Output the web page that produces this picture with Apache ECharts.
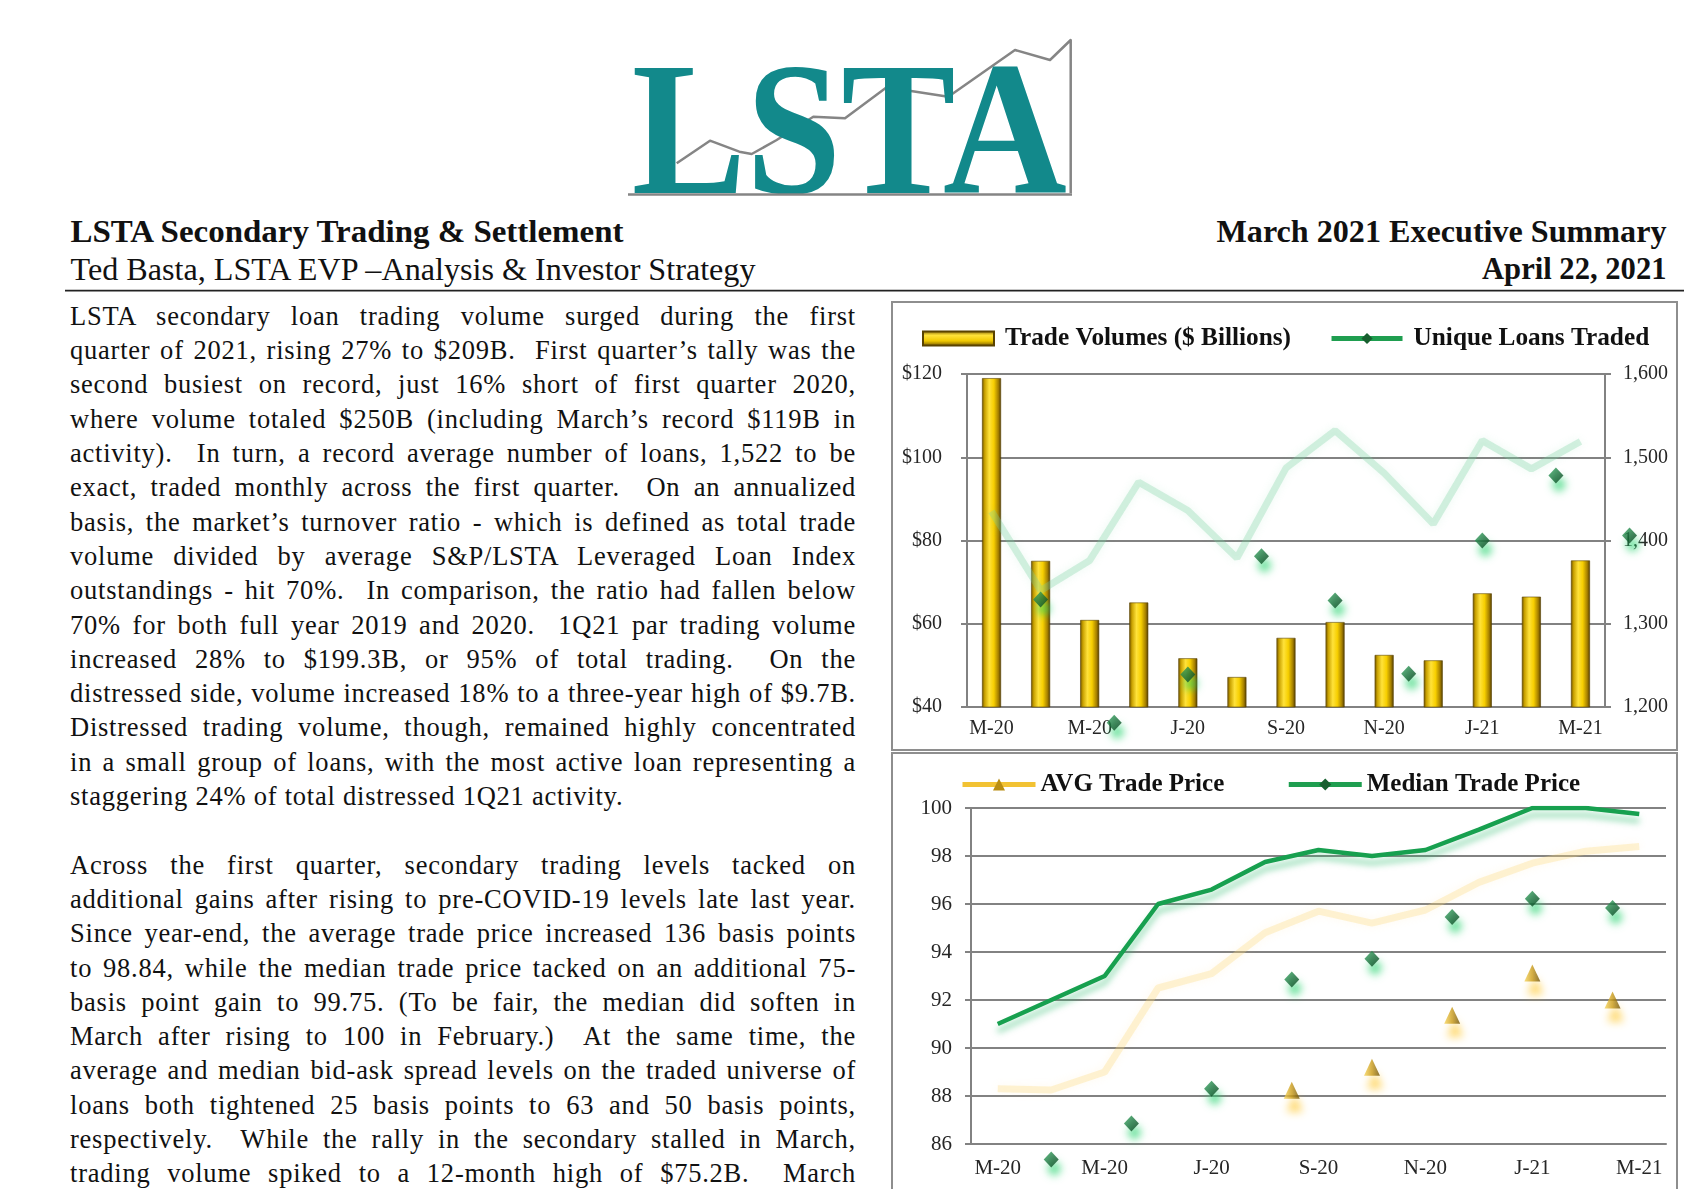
<!DOCTYPE html>
<html>
<head>
<meta charset="utf-8">
<script src="https://cdn.jsdelivr.net/npm/echarts@6/dist/echarts.min.js"></script>
<style>
  html, body { margin:0; padding:0; background:#fff; }
  body { width:1700px; height:1189px; overflow:hidden; position:relative; font-family:'Liberation Serif', serif; color:#111; }
  .line { position:absolute; left:70px; width:786px; height:34.3px; line-height:34.3px; font-size:26.5px; white-space:pre; }
  .line span { display:inline-block; transform-origin:0 50%; }
  .box { position:absolute; border:2px solid #8e8e8e; box-sizing:border-box; }
  .chart { position:absolute; }
</style>
</head>
<body>
<svg id="page" width="1700" height="1189" style="position:absolute;left:0;top:0">
  <g transform="translate(600,0)">
    <polyline points="76.7,163.3 110,140.7 139.3,151.7 151.7,154 176.7,140 213.3,116.7 245,118.3 286.7,87.3 348.3,96.7 415,50 450,60 470.7,40 470.7,193"
      fill="none" stroke="#858585" stroke-width="2.5" stroke-linejoin="round"/>
    <text x="31.7" y="192.7" font-family="Liberation Serif" font-weight="bold" font-size="190" textLength="435" lengthAdjust="spacingAndGlyphs" fill="#12898b">LSTA</text>
    <line x1="28" y1="194.5" x2="472" y2="194.5" stroke="#858585" stroke-width="2.5"/>
  </g>
  <text x="70.5" y="241.8" font-family="Liberation Serif" font-weight="bold" font-size="32" textLength="553" lengthAdjust="spacingAndGlyphs" fill="#111">LSTA Secondary Trading &amp; Settlement</text>
  <text x="70.5" y="279.7" font-family="Liberation Serif" font-size="31" textLength="685" lengthAdjust="spacingAndGlyphs" fill="#111">Ted Basta, LSTA EVP –Analysis &amp; Investor Strategy</text>
  <text x="1216.5" y="241.8" font-family="Liberation Serif" font-weight="bold" font-size="32" textLength="450" lengthAdjust="spacingAndGlyphs" fill="#111">March 2021 Executive Summary</text>
  <text x="1482" y="278.6" font-family="Liberation Serif" font-weight="bold" font-size="32" textLength="184.5" lengthAdjust="spacingAndGlyphs" fill="#111">April 22, 2021</text>
  <line x1="65" y1="290.6" x2="1684" y2="290.6" stroke="#222" stroke-width="1.6"/>
</svg>
<div id="text"></div>
<div id="c1" class="chart" style="left:891px;top:301px;width:787px;height:450px"></div>
<div class="box" style="left:891px;top:301px;width:787px;height:450px"></div>
<div id="c2" class="chart" style="left:891px;top:753px;width:787px;height:436px"></div>
<div class="box" style="left:891px;top:752px;width:787px;height:460px"></div>
<script>
// ---------- DATA ----------
const months = ['M-20','A-20','M-20','J-20','J-20','A-20','S-20','O-20','N-20','D-20','J-21','F-21','M-21'];
const tradeVolumes = [119, 75.1, 60.9, 65.1, 51.7, 47.2, 56.6, 60.4, 52.5, 51.2, 67.3, 66.5, 75.2];
const uniqueLoans = [1435, 1340, 1376, 1470, 1436, 1379, 1487, 1532, 1481, 1420, 1520, 1486, 1519];
const uniqueLoanMarkerPos = [2, 3.5, 5, 6.5, 8, 9.5, 11, 12.5, 14];
const uniqueLoanMarkerVals = [1329, 1181, 1239, 1381, 1328, 1240, 1400, 1478, 1406];
const volumeTicks = [40, 60, 80, 100, 120];
const loanTicks = [1200, 1300, 1400, 1500, 1600];

const avgPrice = [88.3, 88.25, 89.0, 92.5, 93.1, 94.8, 95.7, 95.2, 95.75, 96.9, 97.7, 98.2, 98.4];
const medianPrice = [91.0, 92.0, 93.0, 96.0, 96.6, 97.75, 98.25, 98.0, 98.25, 99.1, 100, 100, 99.75];
const medianMarkerPos = [2, 3.5, 5, 6.5, 8, 9.5, 11, 12.5];
const medianMarkerVals = [85.35, 86.85, 88.3, 92.85, 93.72, 95.46, 96.22, 95.83];
const avgMarkerPos = [6.5, 8, 9.5, 11, 12.5];
const avgMarkerVals = [88.24, 89.2, 91.36, 93.13, 92.0];
const priceTicks = [86, 88, 90, 92, 94, 96, 98, 100];

const para1 = [
"LSTA secondary loan trading volume surged during the first",
"quarter of 2021, rising 27% to $209B.  First quarter’s tally was the",
"second busiest on record, just 16% short of first quarter 2020,",
"where volume totaled $250B (including March’s record $119B in",
"activity).  In turn, a record average number of loans, 1,522 to be",
"exact, traded monthly across the first quarter.  On an annualized",
"basis, the market’s turnover ratio - which is defined as total trade",
"volume divided by average S&P/LSTA Leveraged Loan Index",
"outstandings - hit 70%.  In comparison, the ratio had fallen below",
"70% for both full year 2019 and 2020.  1Q21 par trading volume",
"increased 28% to $199.3B, or 95% of total trading.  On the",
"distressed side, volume increased 18% to a three-year high of $9.7B.",
"Distressed trading volume, though, remained highly concentrated",
"in a small group of loans, with the most active loan representing a",
"staggering 24% of total distressed 1Q21 activity."
];
const para2 = [
"Across the first quarter, secondary trading levels tacked on",
"additional gains after rising to pre-COVID-19 levels late last year.",
"Since year-end, the average trade price increased 136 basis points",
"to 98.84, while the median trade price tacked on an additional 75-",
"basis point gain to 99.75. (To be fair, the median did soften in",
"March after rising to 100 in February.)  At the same time, the",
"average and median bid-ask spread levels on the traded universe of",
"loans both tightened 25 basis points to 63 and 50 basis points,",
"respectively.  While the rally in the secondary stalled in March,",
"trading volume spiked to a 12-month high of $75.2B.  March"
];

// ---------- BODY TEXT ----------
(function () {
  const host = document.getElementById('text');
  const target = 786, base0 = 324.7, step = 34.3;
  const items = [];
  function addLine(str, idx, justify) {
    const d = document.createElement('div');
    d.className = 'line';
    d.style.top = (base0 + step * idx - 25.9) + 'px';
    const s = document.createElement('span');
    s.textContent = str;
    d.appendChild(s);
    host.appendChild(d);
    items.push({s, str, justify});
  }
  para1.forEach((l, i) => addLine(l, i, i < para1.length - 1));
  para2.forEach((l, i) => addLine(l, 16 + i, true));
  let best = 0, count = 1;
  items.forEach(it => {
    const w = it.s.getBoundingClientRect().width;
    if (w > best) { best = w; count = it.str.length; }
  });
  const ls = Math.max(0, (780 - best) / count);
  items.forEach(it => {
    it.s.style.letterSpacing = ls + 'px';
    const w = it.s.getBoundingClientRect().width;
    const n = (it.str.match(/ /g) || []).length;
    if (w > target) it.s.style.transform = 'scaleX(' + (target / w) + ')';
    else if (it.justify && n > 0) it.s.style.wordSpacing = ((target - w) / n) + 'px';
  });
})();

// ---------- CHARTS ----------
const FONT = 'Liberation Serif';
const G = echarts.graphic;
const gridGray = '#828282';

const barGrad = new G.LinearGradient(0, 0, 1, 0, [
  {offset: 0, color: '#6a4f00'}, {offset: 0.14, color: '#c9a100'},
  {offset: 0.38, color: '#ffe23a'}, {offset: 0.62, color: '#f7cf00'},
  {offset: 0.86, color: '#a57f00'}, {offset: 1, color: '#4d3900'}]);
const barLegendGrad = new G.LinearGradient(0, 0, 0, 1, [
  {offset: 0, color: '#7a5c00'}, {offset: 0.3, color: '#ffe23a'},
  {offset: 0.65, color: '#f0c800'}, {offset: 1, color: '#6a4f00'}]);
const diamondGrad = () => new G.LinearGradient(0, 0, 1, 1, [
  {offset: 0, color: '#3bb068'}, {offset: 0.5, color: '#17703a'}, {offset: 1, color: '#0a3a1c'}]);
const triGrad = () => new G.LinearGradient(0, 0, 1, 0, [
  {offset: 0, color: '#f7d55a'}, {offset: 0.5, color: '#c99a18'}, {offset: 1, color: '#6e520a'}]);

const diamondStyle = {
  color: diamondGrad(), shadowColor: 'rgba(30,210,105,0.95)', shadowBlur: 9, shadowOffsetX: 3, shadowOffsetY: 9
};
const triStyle = {
  color: triGrad(), shadowColor: 'rgba(255,198,40,0.9)', shadowBlur: 9, shadowOffsetX: 3, shadowOffsetY: 13
};

const zip = (a, b) => a.map((v, i) => [v, b[i]]);

const axisLabelBase = {fontFamily: FONT, fontSize: 20, color: '#262626'};

const chart1 = echarts.init(document.getElementById('c1'), null, {renderer: 'canvas'});
chart1.setOption({
  animation: false,
  legend: {
    left: 26, top: 20, itemWidth: 71, itemHeight: 14, itemGap: 38,
    textStyle: {fontFamily: FONT, fontSize: 25.3, fontWeight: 'bold', color: '#111', padding: [0, 0, 0, 6]},
    data: [
      {name: 'Trade Volumes ($ Billions)', icon: 'rect', itemStyle: {color: barLegendGrad}},
      {name: 'Unique Loans Traded', itemStyle: {color: '#17602f', shadowBlur: 0, shadowOffsetY: 0},
       lineStyle: {color: '#1f9e50', width: 5, opacity: 1, shadowBlur: 0}}
    ]
  },
  grid: {left: 76, top: 73, width: 638, height: 333},
  xAxis: [
    {type: 'category', data: months, boundaryGap: true,
     axisLine: {lineStyle: {color: gridGray, width: 2}},
     axisTick: {interval: 1, length: 6, lineStyle: {color: gridGray, width: 2}},
     axisLabel: Object.assign({interval: 1, margin: 12}, axisLabelBase)},
    {type: 'value', min: 0.5, max: 13.5, show: false}
  ],
  yAxis: [
    {type: 'value', min: volumeTicks[0], max: volumeTicks[volumeTicks.length - 1], interval: 20,
     axisLine: {show: true, lineStyle: {color: gridGray, width: 2}},
     axisTick: {show: true, length: 6, lineStyle: {color: gridGray, width: 2}},
     splitLine: {lineStyle: {color: gridGray, width: 2}},
     axisLabel: Object.assign({margin: 25, formatter: v => '$' + v}, axisLabelBase)},
    {type: 'value', min: loanTicks[0], max: loanTicks[loanTicks.length - 1], interval: 100, position: 'right',
     axisLine: {show: true, lineStyle: {color: gridGray, width: 2}},
     axisTick: {show: true, length: 6, lineStyle: {color: gridGray, width: 2}},
     splitLine: {show: false},
     axisLabel: Object.assign({margin: 18, formatter: v => v.toLocaleString('en-US')}, axisLabelBase)}
  ],
  series: [
    {name: 'Trade Volumes ($ Billions)', type: 'bar', data: tradeVolumes, barWidth: 19,
     itemStyle: {color: barGrad, borderColor: '#5a4300', borderWidth: 0.6}},
    {name: 'Unique Loans Traded', type: 'line', yAxisIndex: 1, data: uniqueLoans,
     symbol: 'diamond', showSymbol: false, z: 3,
     lineStyle: {color: 'rgba(120,210,160,0.3)', width: 7, shadowColor: 'rgba(120,210,160,0.45)', shadowBlur: 8}},
    {name: 'uniqueMarkers', type: 'scatter', xAxisIndex: 1, yAxisIndex: 1, clip: false, z: 4,
     data: zip(uniqueLoanMarkerPos, uniqueLoanMarkerVals), symbol: 'diamond', symbolSize: [15, 16],
     itemStyle: diamondStyle}
  ]
});

const chart2 = echarts.init(document.getElementById('c2'), null, {renderer: 'canvas'});
chart2.setOption({
  animation: false,
  legend: {
    left: 64, top: 14, itemWidth: 73, itemHeight: 15, itemGap: 62,
    textStyle: {fontFamily: FONT, fontSize: 25, fontWeight: 'bold', color: '#111', padding: [0, 0, 0, 0]},
    data: [
      {name: 'AVG Trade Price', itemStyle: {color: '#b98d12', shadowBlur: 0, shadowOffsetY: 0},
       lineStyle: {color: '#f2c233', width: 5, opacity: 1, shadowBlur: 0}},
      {name: 'Median Trade Price', itemStyle: {color: '#17602f', shadowBlur: 0, shadowOffsetY: 0},
       lineStyle: {color: '#1f9e50', width: 5, opacity: 1, shadowBlur: 0}}
    ]
  },
  grid: {left: 80, top: 55, width: 695, height: 336},
  xAxis: [
    {type: 'category', data: months, boundaryGap: true,
     axisLine: {lineStyle: {color: gridGray, width: 2}},
     axisTick: {interval: 1, length: 6, lineStyle: {color: gridGray, width: 2}},
     axisLabel: Object.assign({interval: 1, margin: 14}, axisLabelBase, {fontSize: 21})},
    {type: 'value', min: 0.5, max: 13.5, show: false}
  ],
  yAxis: [
    {type: 'value', min: priceTicks[0], max: priceTicks[priceTicks.length - 1], interval: 2,
     axisLine: {show: true, lineStyle: {color: gridGray, width: 2}},
     axisTick: {show: true, length: 6, lineStyle: {color: gridGray, width: 2}},
     splitLine: {lineStyle: {color: gridGray, width: 2}},
     axisLabel: Object.assign({margin: 19}, axisLabelBase, {fontSize: 21})}
  ],
  series: [
    {name: 'AVG Trade Price', type: 'line', data: avgPrice, symbol: 'triangle', showSymbol: false,
     lineStyle: {color: 'rgba(252,214,120,0.3)', width: 7, shadowColor: 'rgba(252,214,120,0.4)', shadowBlur: 8}},
    {name: 'Median Trade Price', type: 'line', data: medianPrice, symbol: 'diamond', showSymbol: false,
     lineStyle: {color: '#17a04f', width: 4.5, shadowColor: 'rgba(40,185,105,0.5)', shadowBlur: 6, shadowOffsetY: 7}},
    {name: 'medianMarkers', type: 'scatter', xAxisIndex: 1, clip: false, z: 4,
     data: zip(medianMarkerPos, medianMarkerVals), symbol: 'diamond', symbolSize: [15, 16],
     itemStyle: diamondStyle},
    {name: 'avgMarkers', type: 'scatter', xAxisIndex: 1, clip: false, z: 4,
     data: zip(avgMarkerPos, avgMarkerVals), symbol: 'triangle', symbolSize: [16, 17],
     itemStyle: triStyle}
  ]
});
</script>
</body>
</html>
